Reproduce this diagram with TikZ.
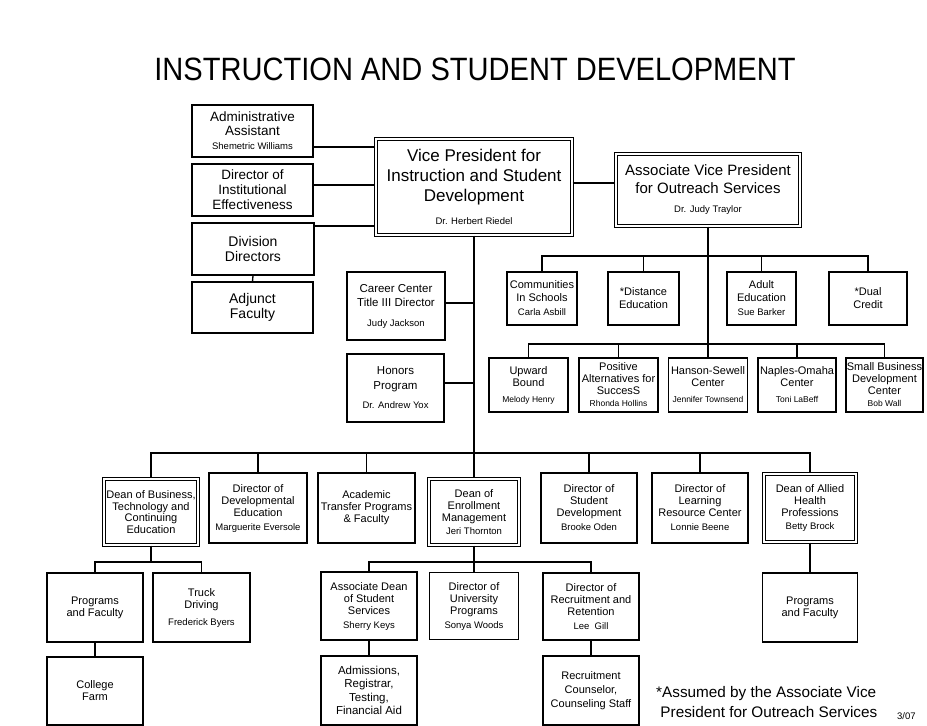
\documentclass[tikz,border=0pt]{standalone}
\usepackage{fontspec}
\setmainfont{Liberation Sans}
\newfontfamily\headfont{Liberation Sans}[FakeStretch=0.9]
\newcommand{\whofont}{\fontsize{9.5}{11}\selectfont}
\newcommand{\smallwho}{\fontsize{8.5}{9.5}\selectfont}
\newcommand{\boxfont}{\fontsize{11}{12}\selectfont}
\newcommand{\sidefont}{\fontsize{13.5}{15}\selectfont}
\newcommand{\vpfont}{\fontsize{17}{20}\selectfont}
\newcommand{\avpfont}{\fontsize{15}{17.5}\selectfont}

\begin{document}
\begin{tikzpicture}[x=1pt, y=-1pt,
  box/.style={draw, line width=1.4pt, fill=white, align=center, inner sep=1pt, font=\boxfont},
  dbox/.style={box, double, double distance=2pt, line width=1.1pt},
  link/.style={line width=1.35pt}]
\useasboundingbox[fill=white] (0,0) rectangle (927,726);

\node[anchor=base, font=\headfont\fontsize{32.3}{36}\selectfont] (title) at (475,80) {INSTRUCTION AND STUDENT DEVELOPMENT};

% left column
\node[box, font=\fontsize{13.5}{13.5}\selectfont, minimum width=121pt, minimum height=52pt] (adminasst) at (252.5,131) {Administrative\\Assistant\\[1pt]{\whofont Shemetric Williams}};
\node[box, font=\sidefont, minimum width=121pt, minimum height=52pt] (dirie) at (252.5,190) {Director of\\Institutional\\Effectiveness};
\node[box, font=\fontsize{14}{15.5}\selectfont, minimum width=122pt, minimum height=52pt] (divdir) at (253,249) {Division\\Directors};
\node[box, font=\fontsize{14}{15.5}\selectfont, minimum width=121pt, minimum height=51pt] (adjunct) at (252.5,307.5) {Adjunct\\Faculty};

% vice presidents
\node[dbox, font=\vpfont, minimum width=196pt, minimum height=96pt] (vp) at (474,187) {Vice President for\\Instruction and Student\\Development\\[3pt]{\whofont Dr. Herbert Riedel}};
\node[dbox, font=\avpfont, minimum width=184pt, minimum height=72pt] (avp) at (708,190) {Associate Vice President\\for Outreach Services\\[2pt]{\whofont Dr. Judy Traylor}};

\node[box, font=\fontsize{11.5}{14.5}\selectfont, minimum width=98pt, minimum height=68pt] (career) at (396,306) {Career Center\\Title III Director\\[5pt]{\whofont Judy Jackson}};
\node[box, font=\fontsize{11.5}{14.5}\selectfont, minimum width=97pt, minimum height=68pt] (honors) at (395.5,388) {Honors\\Program\\[5pt]{\whofont Dr. Andrew Yox}};

% outreach services
\node[box, font=\fontsize{11}{13}\selectfont, minimum width=70pt, minimum height=53pt] (cis) at (542,298.5) {Communities\\In Schools\\[1pt]{\whofont Carla Asbill}};
\node[box, font=\fontsize{11}{13}\selectfont, minimum width=71pt, minimum height=53pt] (distance) at (643.5,298.5) {*Distance\\Education};
\node[box, font=\fontsize{11}{13}\selectfont, minimum width=69pt, minimum height=53pt] (adulted) at (761.5,298.5) {Adult\\Education\\[1pt]{\whofont Sue Barker}};
\node[box, font=\fontsize{11}{13}\selectfont, minimum width=78pt, minimum height=53pt] (dual) at (868,298.5) {*Dual\\Credit};

\node[box, minimum width=79pt, minimum height=54pt] (upward) at (528.5,385) {Upward\\Bound\\[4pt]{\smallwho Melody Henry}};
\node[box, minimum width=79pt, minimum height=54pt] (pass) at (618.5,385) {Positive\\Alternatives for\\SuccesS\\{\smallwho Rhonda Hollins}};
\node[box, minimum width=79pt, minimum height=54pt] (hanson) at (708,385) {Hanson-Sewell\\Center\\[4pt]{\smallwho Jennifer Townsend}};
\node[box, minimum width=78pt, minimum height=54pt] (naples) at (797,385) {Naples-Omaha\\Center\\[4pt]{\smallwho Toni LaBeff}};
\node[box, minimum width=77pt, minimum height=54pt] (sbdc) at (884.5,385) {Small Business\\Development\\Center\\{\smallwho Bob Wall}};

% deans and directors
\node[dbox, font=\fontsize{11}{11.5}\selectfont, minimum width=94pt, minimum height=66pt] (deanbus) at (151,512) {Dean of Business,\\Technology and\\Continuing\\Education};
\node[box, minimum width=98pt, minimum height=70pt] (devedu) at (258,508) {Director of\\Developmental\\Education\\[2pt]{\whofont Marguerite Eversole}};
\node[box, minimum width=97pt, minimum height=70pt] (transfer) at (366.5,508) {Academic\\Transfer Programs\\\& Faculty};
\node[dbox, minimum width=90pt, minimum height=66pt] (enroll) at (474,512) {Dean of\\Enrollment\\Management\\[1pt]{\whofont Jeri Thornton}};
\node[box, minimum width=96pt, minimum height=70pt] (studdev) at (589,508) {Director of\\Student\\Development\\[2pt]{\whofont Brooke Oden}};
\node[box, minimum width=96pt, minimum height=70pt] (lrc) at (700,508) {Director of\\Learning\\Resource Center\\[2pt]{\whofont Lonnie Beene}};
\node[dbox, minimum width=92pt, minimum height=68pt] (allied) at (810,508) {Dean of Allied\\Health\\Professions\\[1pt]{\whofont Betty Brock}};

% lower units
\node[box, minimum width=96pt, minimum height=69pt] (progbus) at (95,607.5) {Programs\\and Faculty};
\node[box, minimum width=97pt, minimum height=69pt] (truck) at (201.5,607.5) {Truck\\Driving\\[5pt]{\whofont Frederick Byers}};
\node[box, minimum width=96pt, minimum height=68pt] (farm) at (95,691) {College\\Farm};
\node[box, minimum width=96pt, minimum height=68pt] (assocdean) at (369,606) {Associate Dean\\of Student\\Services\\[2pt]{\whofont Sherry Keys}};
\node[box, minimum width=89pt, minimum height=67pt] (univ) at (474,606) {Director of\\University\\Programs\\[2pt]{\whofont Sonya Woods}};
\node[box, minimum width=96pt, minimum height=67pt] (recruit) at (591,606.5) {Director of\\Recruitment and\\Retention\\[2pt]{\whofont Lee\ \ Gill}};
\node[box, font=\fontsize{11.5}{13.5}\selectfont, minimum width=96pt, minimum height=69pt] (admissions) at (369,690.5) {Admissions,\\Registrar,\\Testing,\\Financial Aid};
\node[box, font=\fontsize{11}{14}\selectfont, minimum width=96pt, minimum height=69pt] (counselor) at (591,690.5) {Recruitment\\Counselor,\\Counseling Staff};
\node[box, minimum width=95pt, minimum height=69pt] (progallied) at (810,607.5) {Programs\\and Faculty};

\node[anchor=north west, align=left, inner sep=0pt, font=\fontsize{15.3}{20}\selectfont] (note) at (656,686.5) {*Assumed by the Associate Vice\\\ President for Outreach Services};
\node[anchor=base west, inner sep=0pt, font=\fontsize{9.5}{11}\selectfont] (datemark) at (897,719) {3/07};

% connectors
\coordinate (deanbar) at (474,453);
\coordinate (outtop) at (708,256);
\coordinate (outbot) at (708,344);
\coordinate (busbar) at (151,562);
\coordinate (enrbar) at (474,562);

\draw[link] ([yshift=-16pt]adminasst.east) -- ([yshift=-16pt]adminasst.east -| vp.west);
\draw[link] ([yshift=5pt]dirie.east) -- ([yshift=5pt]dirie.east -| vp.west);
\draw[link] ([yshift=23pt]divdir.east) -- ([yshift=23pt]divdir.east -| vp.west);
\draw[link] (divdir.south) -- (adjunct.north);
\draw[link] ([yshift=4pt]vp.east) -- ([yshift=4pt]vp.east -| avp.west);

\draw[link] (vp.south) -- (deanbar);
\draw[link] ([yshift=3pt]career.east) -- ([yshift=3pt]career.east -| deanbar);
\draw[link] ([yshift=5pt]honors.east) -- ([yshift=5pt]honors.east -| deanbar);

\draw[link] (avp.south) -- (outbot);
\foreach \n in {cis,distance,adulted,dual}
  \draw[link] (outtop) -| (\n.north);
\foreach \n in {upward,pass,naples,sbdc}
  \draw[link] (outbot) -| (\n.north);
\draw[link] (outbot) -- (hanson.north);

\foreach \n in {deanbus,devedu,transfer,studdev,lrc,allied}
  \draw[link] (deanbar) -| (\n.north);
\draw[link] (deanbar) -- (enroll.north);

\draw[link] (deanbus.south) -- (busbar);
\draw[link] (busbar) -| (progbus.north);
\draw[link] (busbar) -| (truck.north);
\draw[link] (progbus.south) -- (farm.north);

\draw[link] (enroll.south) -- (enrbar);
\draw[link] (enrbar) -| (assocdean.north);
\draw[link] (enrbar) -| (recruit.north);
\draw[link] (enrbar) -- (univ.north);
\draw[link] (assocdean.south) -- (admissions.north);
\draw[link] (recruit.south) -- (counselor.north);

\draw[link] (allied.south) -- (progallied.north);
\end{tikzpicture}
\end{document}
